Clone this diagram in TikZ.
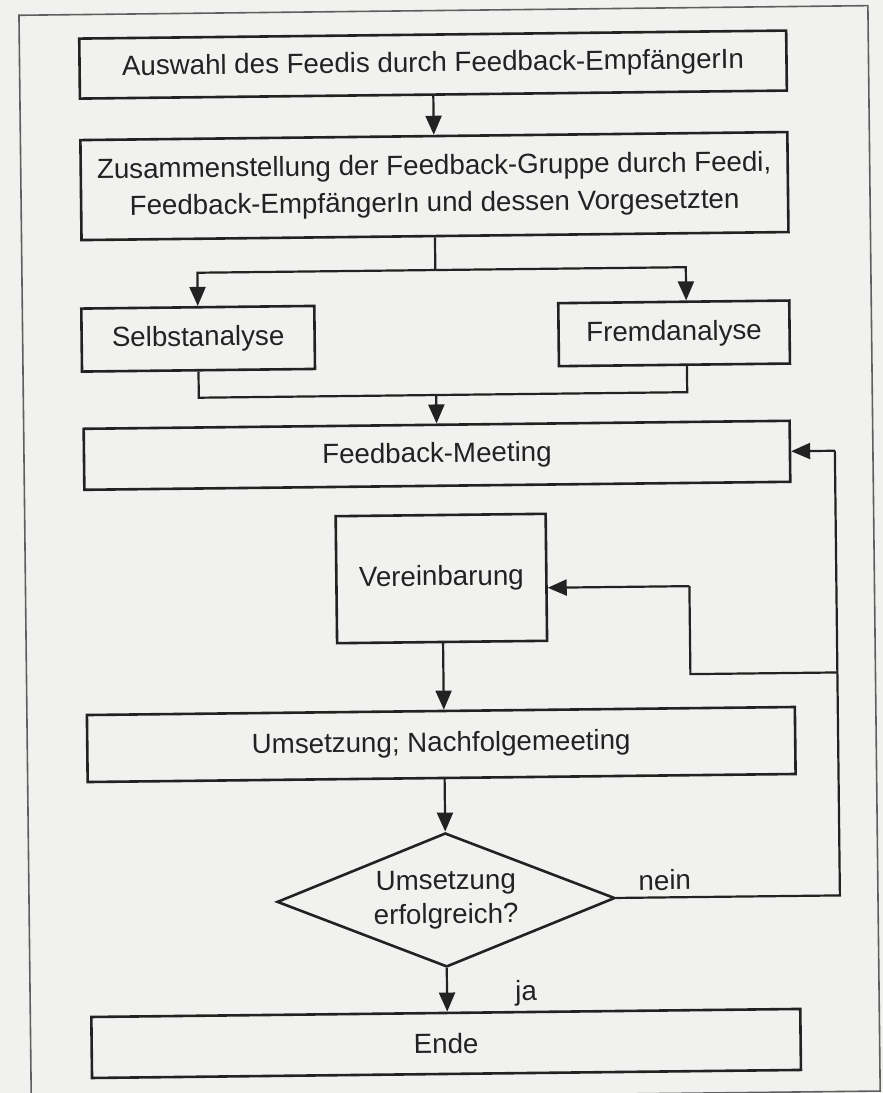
\documentclass[tikz,border=0pt]{standalone}
\usepackage{fontspec}
\setmainfont{Liberation Sans}
\usetikzlibrary{shapes.geometric,arrows.meta,calc}
\definecolor{paper}{RGB}{241,241,240}
\definecolor{ink}{RGB}{34,34,34}
\definecolor{framec}{RGB}{95,95,95}
\begin{document}
\begin{tikzpicture}[x=1pt,y=-1pt,
  txt/.style={text=ink,font=\fontsize{27.7}{37}\selectfont},
  box/.style={txt,draw=ink,line width=2.6pt,inner sep=0pt,align=center},
  decision/.style={txt,draw=ink,line width=2.6pt,inner sep=0pt,align=center,
    shape=diamond,shape aspect=2.52,font=\fontsize{27.7}{34}\selectfont},
  conn/.style={draw=ink,line width=2.2pt},
  arr/.style={conn,-{Triangle[length=19pt,width=16pt]}}]
\fill[paper] (0,0) rectangle (883,1093);
\useasboundingbox (0,0) rectangle (883,1093);
\begin{scope}[rotate around={0.65:(441,546)},transform shape]
  % page frame
  \draw[framec,line width=1.6pt] (25,10.5) rectangle (874,1096);
  % nodes
  \node[box,minimum width=707pt,minimum height=60pt] (b1) at (438.5,64.5)
    {Auswahl des Feedis durch Feedback-EmpfängerIn};
  \node[box,minimum width=707pt,minimum height=100pt] (b2) at (438.5,186)
    {Zusammenstellung der Feedback-Gruppe durch Feedi,\\Feedback-EmpfängerIn und dessen Vorgesetzten};
  \node[box,minimum width=233pt,minimum height=63pt] (sa) at (200.5,336) {Selbstanalyse};
  \node[box,minimum width=231pt,minimum height=63pt] (fa) at (676.5,336) {Fremdanalyse};
  \node[box,minimum width=706pt,minimum height=61pt] (fm) at (438,455.25) {Feedback-Meeting};
  \node[box,minimum width=210pt,minimum height=127pt] (ve) at (441,578.5) {Vereinbarung};
  \node[box,minimum width=708pt,minimum height=67pt] (um) at (439,744.5) {Umsetzung; Nachfolgemeeting};
  \node[decision,minimum width=338pt,minimum height=134pt] (dia) at (442,900) {Umsetzung\\erfolgreich?};
  \node[box,minimum width=709pt,minimum height=61pt] (en) at (440.5,1043.5) {Ende};
  \node[txt] (nein) at (661,882.5) {nein};
  \node[txt] (ja) at (521,994) {ja};
  % helper coordinates
  \coordinate (split) at (438.5,270);
  \coordinate (join) at (438,395);
  \coordinate (loopB) at (836,900);
  \coordinate (br) at (836,677);
  \coordinate (vc) at (689,677);
  \coordinate (va) at (689,589);
  % connectors
  \draw[arr] (b1) -- (b2);
  \draw[conn] (b2.south) -- (split);
  \draw[arr] (split) -| (sa.north);
  \draw[arr] (split) -| ([xshift=12.5pt]fa.north);
  \draw[conn] (sa.south) |- (join);
  \draw[conn] ([xshift=12.5pt]fa.south) |- (join);
  \draw[arr] (join) -- (fm);
  \draw[arr] (ve.south -| dia) -- (um.north -| dia);
  \draw[arr] (um.south -| dia) -- (dia.north);
  \draw[arr] (dia.south) -- (en.north -| dia);
  \draw[conn] (dia.east) -- (loopB) -- (fm.east -| loopB);
  \draw[arr] (fm.east -| loopB) -- (fm.east);
  \draw[conn] (br) -- (vc) -- (va);
  \draw[arr] (va) -- (va -| ve.east);
\end{scope}
\end{tikzpicture}
\end{document}
